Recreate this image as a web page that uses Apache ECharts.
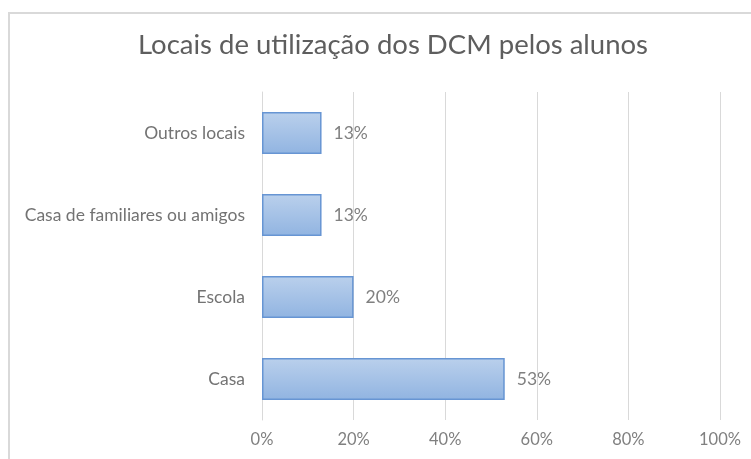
<!DOCTYPE html>
<html>
<head>
<meta charset="utf-8">
<script src="https://cdn.jsdelivr.net/npm/echarts@6/dist/echarts.min.js"></script>
<style>
  html, body { margin: 0; padding: 0; background: #fff; }
  #frame {
    position: absolute; left: 8px; top: 12px; width: 760px; height: 470px;
    border: 2px solid #d9d9d9; box-sizing: border-box;
  }
  #chart { position: absolute; left: 0; top: 0; width: 751px; height: 459px; }
</style>
</head>
<body>
<div id="frame"></div>
<div id="chart"></div>
<script>
// dados do gráfico
const categorias = ['Casa', 'Escola', 'Casa de familiares ou amigos', 'Outros locais'];
const percentagens = [53, 20, 13, 13];
const titulo = 'Locais de utilização dos DCM pelos alunos';

const chart = echarts.init(document.getElementById('chart'));
const fonte = 'Lato, Open Sans, sans-serif';

chart.setOption({
  animation: false,
  title: {
    text: titulo,
    left: 133,
    top: 26,
    textStyle: { color: '#5e5e5e', fontSize: 27.5, fontWeight: 'normal', fontFamily: fonte }
  },
  grid: { left: 262, right: 31, top: 92, bottom: 39, containLabel: false },
  xAxis: {
    type: 'value',
    min: 0,
    max: 100,
    interval: 20,
    axisLine: { show: false },
    axisTick: { show: false },
    splitLine: { lineStyle: { color: '#d9d9d9', width: 1 } },
    axisLabel: {
      color: '#808080', fontSize: 16.5, fontFamily: fonte, margin: 11,
      formatter: '{value}%'
    }
  },
  yAxis: {
    type: 'category',
    data: categorias,
    axisLine: { show: true, lineStyle: { color: '#d9d9d9' } },
    axisTick: { show: false },
    axisLabel: { color: '#737373', fontSize: 17.5, fontFamily: fonte, margin: 17 }
  },
  series: [{
    type: 'bar',
    data: percentagens,
    barWidth: '51%',
    itemStyle: {
      color: new echarts.graphic.LinearGradient(0, 0, 0, 1, [
        { offset: 0, color: '#bad0ec' },
        { offset: 1, color: '#91b4e1' }
      ]),
      borderColor: '#6795d3',
      borderWidth: 1.5
    },
    label: {
      show: true,
      position: 'right',
      distance: 12,
      color: '#808080',
      fontSize: 17.5,
      fontFamily: fonte,
      formatter: '{c}%'
    }
  }]
});
</script>
</body>
</html>
